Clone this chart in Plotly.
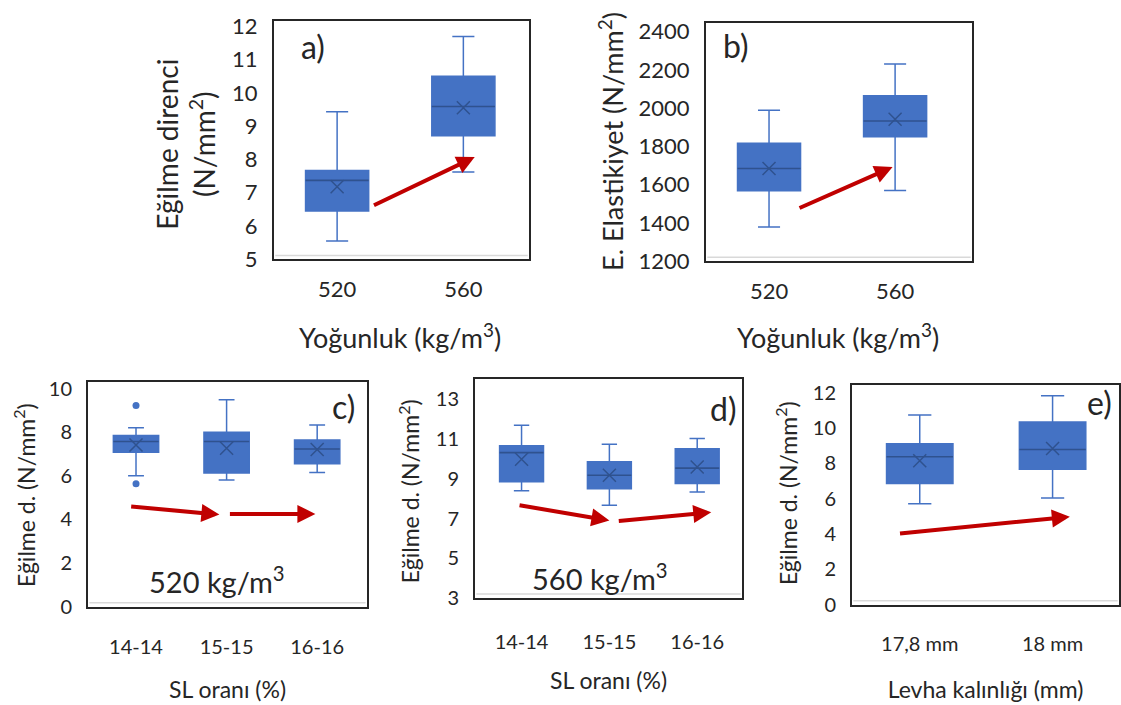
import plotly.graph_objects as go

W, H = 1121, 705
BLUE = "#4472C4"
DARK = "#2F528F"
RED = "#C00000"
TXT = "#262626"
FONT = "Lato"

# ---------------- data ----------------
# a) Eğilme direnci vs Yoğunluk
a_cats = ["520", "560"]
a_low = [5.55, 7.62]
a_q1 = [6.45, 8.71]
a_med = [7.37, 9.59]
a_q3 = [7.67, 10.50]
a_up = [9.43, 11.69]
a_mean = [7.18, 9.55]

# b) E. Elastikiyet vs Yoğunluk
b_cats = ["520", "560"]
b_low = [1379, 1570]
b_q1 = [1568, 1851]
b_med = [1685, 1933]
b_q3 = [1817, 2065]
b_up = [1989, 2231]
b_mean = [1685, 1942]

# c) 520 kg/m3, SL oranı
c_cats = ["14-14", "15-15", "16-16"]
c_low = [6.00, 5.80, 6.15]
c_q1 = [7.08, 6.13, 6.55]
c_med = [7.57, 7.57, 7.23]
c_q3 = [7.85, 8.00, 7.64]
c_up = [8.20, 9.48, 8.33]
c_mean = [7.41, 7.26, 7.20]
c_out_cat = [0, 0]
c_out_val = [9.22, 5.63]

# d) 560 kg/m3, SL oranı
d_cats = ["14-14", "15-15", "16-16"]
d_low = [8.40, 7.67, 8.33]
d_q1 = [8.85, 8.50, 8.77]
d_med = [10.32, 9.18, 9.54]
d_q3 = [10.67, 9.86, 10.51]
d_up = [11.70, 10.74, 11.03]
d_mean = [9.99, 9.18, 9.60]

# e) Levha kalınlığı
e_cats = ["17,8 mm", "18 mm"]
e_low = [5.71, 6.04]
e_q1 = [6.87, 7.67]
e_med = [8.38, 8.79]
e_q3 = [9.12, 10.35]
e_up = [10.75, 11.83]
e_mean = [8.15, 8.85]

# trend arrows (tail x, tail y, head x, head y) in data units
a_arrows = [(0.28, 6.60, 1.09, 8.07)]
b_arrows = [(0.23, 1475, 0.98, 1693)]
c_arrows = [(-0.07, 4.60, 0.92, 4.22), (1.02, 4.25, 1.98, 4.25)]
d_arrows = [(-0.04, 7.68, 1.00, 6.90), (1.09, 6.87, 2.16, 7.31)]
e_arrows = [(-0.16, 4.03, 1.13, 4.98)]

# ---------------- panel geometry (pixels) ----------------
panels = [
    dict(key="a", cats=a_cats, low=a_low, q1=a_q1, med=a_med, q3=a_q3, up=a_up, mean=a_mean,
         arrows=a_arrows, px=(274, 529), py=(13, 259), xr=[-0.5, 1.52], yr=[5, 12.17],
         ytick=list(range(5, 13)), big=True, tso=9, xtitle=None),
    dict(key="b", cats=b_cats, low=b_low, q1=b_q1, med=b_med, q3=b_q3, up=b_up, mean=b_mean,
         arrows=b_arrows, px=(706, 972), py=(15, 261), xr=[-0.5, 1.61], yr=[1200, 2448],
         ytick=list(range(1200, 2401, 200)), big=True, tso=9, xtitle=None),
    dict(key="c", cats=c_cats, low=c_low, q1=c_q1, med=c_med, q3=c_q3, up=c_up, mean=c_mean,
         arrows=c_arrows, px=(88, 367), py=(385, 617), xr=[-0.53, 2.55], yr=[0, 10.32],
         ytick=list(range(0, 11, 2)), big=False, tso=21, xtitle=("SL oranı (%)", 25)),
    dict(key="d", cats=d_cats, low=d_low, q1=d_q1, med=d_med, q3=d_q3, up=d_up, mean=d_mean,
         arrows=d_arrows, px=(475, 742), py=(382, 608), xr=[-0.53, 2.51], yr=[3, 14.05],
         ytick=list(range(3, 14, 2)), big=False, tso=25, xtitle=("SL oranı (%)", 21)),
    dict(key="e", cats=e_cats, low=e_low, q1=e_q1, med=e_med, q3=e_q3, up=e_up, mean=e_mean,
         arrows=e_arrows, px=(852, 1119), py=(389, 615), xr=[-0.51, 1.5], yr=[0, 12.42],
         ytick=list(range(0, 13, 2)), big=False, tso=20, xtitle=("Levha kalınlığı (mm)", 28)),
]

BOXW = 0.5

fig = go.Figure()
layout = dict(
    width=W, height=H, margin=dict(l=0, r=0, t=0, b=0),
    paper_bgcolor="white", plot_bgcolor="white", showlegend=False,
    font=dict(family=FONT, color=TXT),
)
annotations = []
shapes = []

for i, p in enumerate(panels, start=1):
    xa = "x" if i == 1 else f"x{i}"
    ya = "y" if i == 1 else f"y{i}"
    pos = list(range(len(p["cats"])))
    fig.add_trace(go.Box(
        x=pos, q1=p["q1"], median=p["med"], q3=p["q3"],
        lowerfence=p["low"], upperfence=p["up"],
        width=BOXW, whiskerwidth=0.35, fillcolor=BLUE,
        line=dict(color=BLUE, width=1.5), boxpoints=False,
        xaxis=xa, yaxis=ya, hoverinfo="skip",
    ))
    # median lines drawn darker
    mx, my = [], []
    for k, m in zip(pos, p["med"]):
        mx += [k - BOXW / 2, k + BOXW / 2, None]
        my += [m, m, None]
    fig.add_trace(go.Scatter(x=mx, y=my, mode="lines", line=dict(color=DARK, width=1.6),
                             xaxis=xa, yaxis=ya, hoverinfo="skip"))
    # mean markers
    fig.add_trace(go.Scatter(x=pos, y=p["mean"], mode="markers",
                             marker=dict(symbol="x-thin", size=13, line=dict(color=DARK, width=1.5)),
                             xaxis=xa, yaxis=ya, hoverinfo="skip"))
    tf = 22 if p["big"] else 20
    x0, x1 = p["px"]
    y0, y1 = p["py"]
    xax = dict(
        domain=[x0 / W, x1 / W], range=p["xr"], anchor=ya,
        tickvals=pos, ticktext=p["cats"], showgrid=False, zeroline=False,
        showline=True, mirror=True, linecolor=TXT, linewidth=2, ticks="",
        ticklabelstandoff=p["tso"], tickfont=dict(size=tf, color=TXT, family=FONT),
        fixedrange=True,
    )
    if p["xtitle"]:
        xax["title"] = dict(text=p["xtitle"][0], standoff=p["xtitle"][1],
                            font=dict(size=23, color=TXT, family=FONT))
    layout["xaxis" if i == 1 else f"xaxis{i}"] = xax
    layout["yaxis" if i == 1 else f"yaxis{i}"] = dict(
        domain=[1 - y1 / H, 1 - y0 / H], range=p["yr"], anchor=xa,
        tickvals=p["ytick"], showgrid=False, zeroline=False,
        showline=True, mirror=True, linecolor=TXT, linewidth=2, ticks="",
        ticklabelstandoff=10, tickfont=dict(size=tf, color=TXT, family=FONT),
        fixedrange=True,
    )
    # light grey inner baseline just above the bottom frame
    shapes.append(dict(type="line", xref=f"{xa} domain", yref="paper",
                       x0=0.005, x1=0.995, y0=1 - (y1 - 4) / H, y1=1 - (y1 - 4) / H,
                       line=dict(color="#D9D9D9", width=1.5)))
    for (tx, ty, hx, hy) in p["arrows"]:
        annotations.append(dict(
            x=hx, y=hy, ax=tx, ay=ty, xref=xa, yref=ya, axref=xa, ayref=ya,
            showarrow=True, arrowhead=2, arrowsize=0.9, arrowwidth=4, arrowcolor=RED, text="",
        ))

# outliers in c)
fig.add_trace(go.Scatter(x=c_out_cat, y=c_out_val, mode="markers",
                         marker=dict(symbol="circle", size=7, color=BLUE),
                         xaxis="x3", yaxis="y3", hoverinfo="skip"))


def txt(s, px, py, size, angle=0):
    annotations.append(dict(text=s, x=px / W, y=1 - py / H, xref="paper", yref="paper",
                            showarrow=False, textangle=angle, xanchor="center", yanchor="middle",
                            borderpad=0, font=dict(family=FONT, size=size, color=TXT)))


# axis titles
txt("Eğilme direnci<br>(N/mm<sup>2</sup>)", 185, 141, 28, -90)
txt("Yoğunluk (kg/m<sup>3</sup>)", 400, 338, 27)
txt("E. Elastikiyet (N/mm<sup>2</sup>)", 611, 138, 27, -90)
txt("Yoğunluk (kg/m<sup>3</sup>)", 838, 338, 27)
txt("Eğilme d. (N/mm<sup>2</sup>)", 24, 502, 23, -90)
txt("Eğilme d. (N/mm<sup>2</sup>)", 409, 498, 23, -90)
txt("Eğilme d. (N/mm<sup>2</sup>)", 786, 500, 23, -90)
# panel labels
txt("a)", 313, 40, 32)
txt("b)", 736, 39, 32)
txt("c)", 343, 411, 32)
txt("d)", 723, 413, 32)
txt("e)", 1099, 407, 32)
txt("520 kg/m<sup>3</sup>", 217, 590, 29)
txt("560 kg/m<sup>3</sup>", 600, 586, 29)

layout["annotations"] = annotations
layout["shapes"] = shapes
fig.update_layout(**layout)
fig.write_html("out.html")
